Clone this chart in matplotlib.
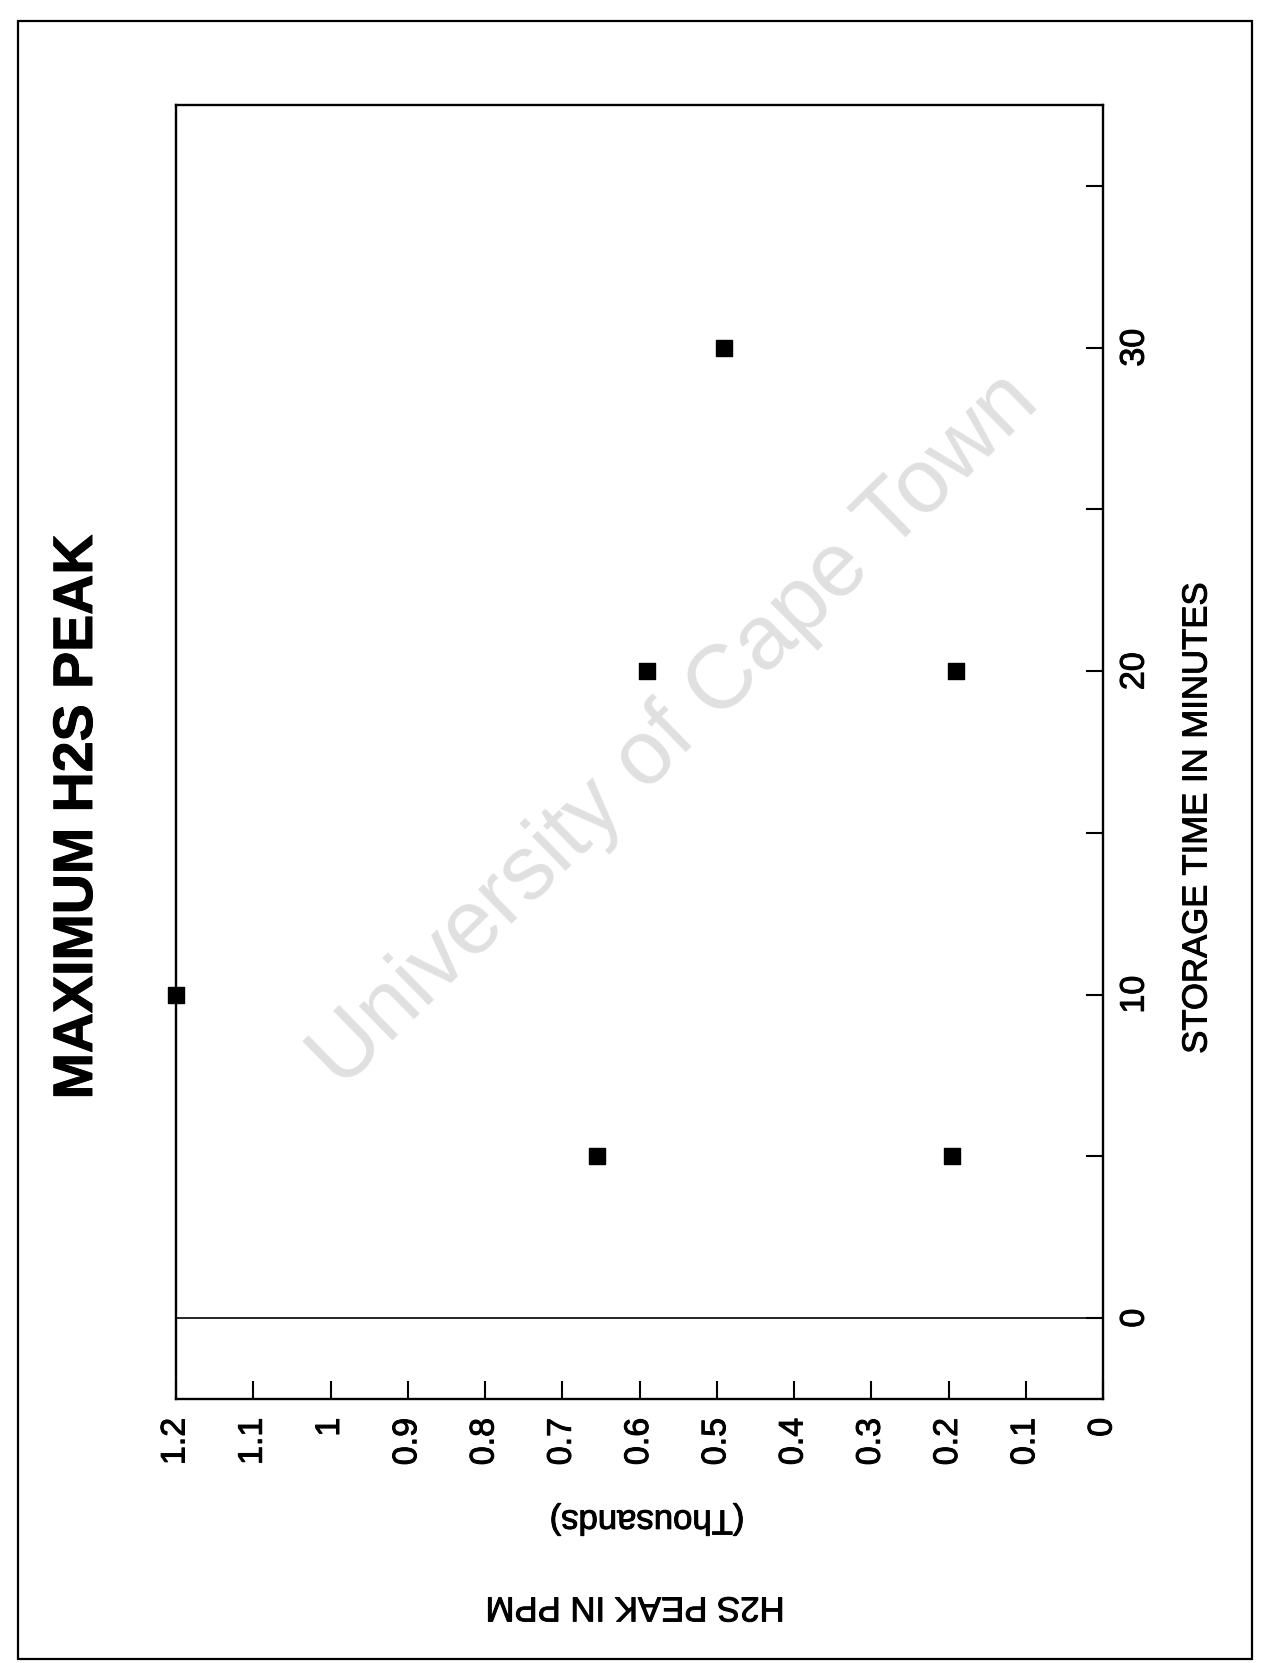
"""
Scanned-page style scatter of the maximum H2S peak against storage time.
The page is turned on its side, so the chart is drawn rotated by 90 degrees.
"""

import matplotlib
matplotlib.use('Agg')
import matplotlib.pyplot as plt
import matplotlib.patheffects as pe
from matplotlib.patches import Rectangle


# storage time (minutes) and peak H2S (thousands of ppm) of each sample
storage_time = [10, 5, 5, 20, 20, 30]
h2s_peak = [1.2, 0.655, 0.195, 0.59, 0.19, 0.49]

h2s_ticks = [0, 0.1, 0.2, 0.3, 0.4, 0.5, 0.6, 0.7, 0.8, 0.9, 1.0, 1.1, 1.2]
h2s_labels = ['0', '0.1', '0.2', '0.3', '0.4', '0.5', '0.6', '0.7', '0.8',
              '0.9', '1', '1.1', '1.2']
time_ticks = [0, 5, 10, 15, 20, 25, 30, 35]
time_labels = ['0', '', '10', '', '20', '', '30', '']

W, H = 1262, 1663
# scanned print looks a little heavier than a clean font
INK = [pe.withStroke(linewidth=0.7, foreground='black')]


def px(x, y):
    """Pixel position (from the top left) to figure fraction."""
    return x / W, 1 - y / H


def draw_chart(fig):
    """
    Draw the rotated chart: H2S runs right to left along the bottom,
    storage time runs upward with its ticks on the right side.
    """
    left, right, top, bottom = 176, 1103, 105, 1399
    ax = fig.add_axes([left / W, 1 - bottom / H,
                       (right - left) / W, (bottom - top) / H])
    ax.scatter(h2s_peak, storage_time, marker='s', s=135, color='black',
               zorder=5, clip_on=False)
    ax.axhline(0, color='black', lw=1.2)

    ax.set_xlim(1.2, 0)
    ax.set_ylim(-2.5, 37.5)
    ax.yaxis.tick_right()
    ax.set_xticks(h2s_ticks)
    ax.set_xticklabels(h2s_labels, rotation=90)
    ax.set_yticks(time_ticks)
    ax.set_yticklabels(time_labels, rotation=90, va='center')
    ax.tick_params(axis='x', direction='in', length=13, width=1.5,
                   pad=13.5, labelsize=24.5)
    ax.tick_params(axis='y', direction='in', length=12.5, width=1.5,
                   pad=12, labelsize=24.5)
    for lab in ax.get_xticklabels() + ax.get_yticklabels():
        lab.set_path_effects(INK)
    for s in ax.spines.values():
        s.set_linewidth(1.7)
    return ax


def main():
    plt.rcParams['font.family'] = ['Liberation Sans', 'DejaVu Sans']
    fig = plt.figure(figsize=(W / 100, H / 100), dpi=100)
    fig.patch.set_facecolor('white')

    # page border of the scan
    fig.patches.append(Rectangle(px(18, 1659), 1234 / W, 1638 / H,
                                 transform=fig.transFigure, fill=False,
                                 lw=1.6, ec='black'))

    draw_chart(fig)

    fig.text(*px(78, 817), 'MAXIMUM H2S PEAK', rotation=90,
             fontsize=40, fontweight='bold', ha='center', va='center',
             path_effects=INK)
    fig.text(*px(1197, 818), 'STORAGE TIME IN MINUTES', rotation=90,
             fontsize=25, ha='center', va='center', path_effects=INK)
    fig.text(*px(647, 1520), '(Thousands)', rotation=180,
             fontsize=25, ha='center', va='center', path_effects=INK)
    fig.text(*px(635, 1607), 'H2S PEAK IN PPM', rotation=180,
             fontsize=25, ha='center', va='center', path_effects=INK)

    # watermark
    fig.text(*px(675, 731), 'University of Cape Town', rotation=44.4,
             rotation_mode='anchor', fontsize=65.5, color='#e0e0e0',
             ha='center', va='center')

    fig.savefig('out.png', dpi=100)


if __name__ == '__main__':
    main()
